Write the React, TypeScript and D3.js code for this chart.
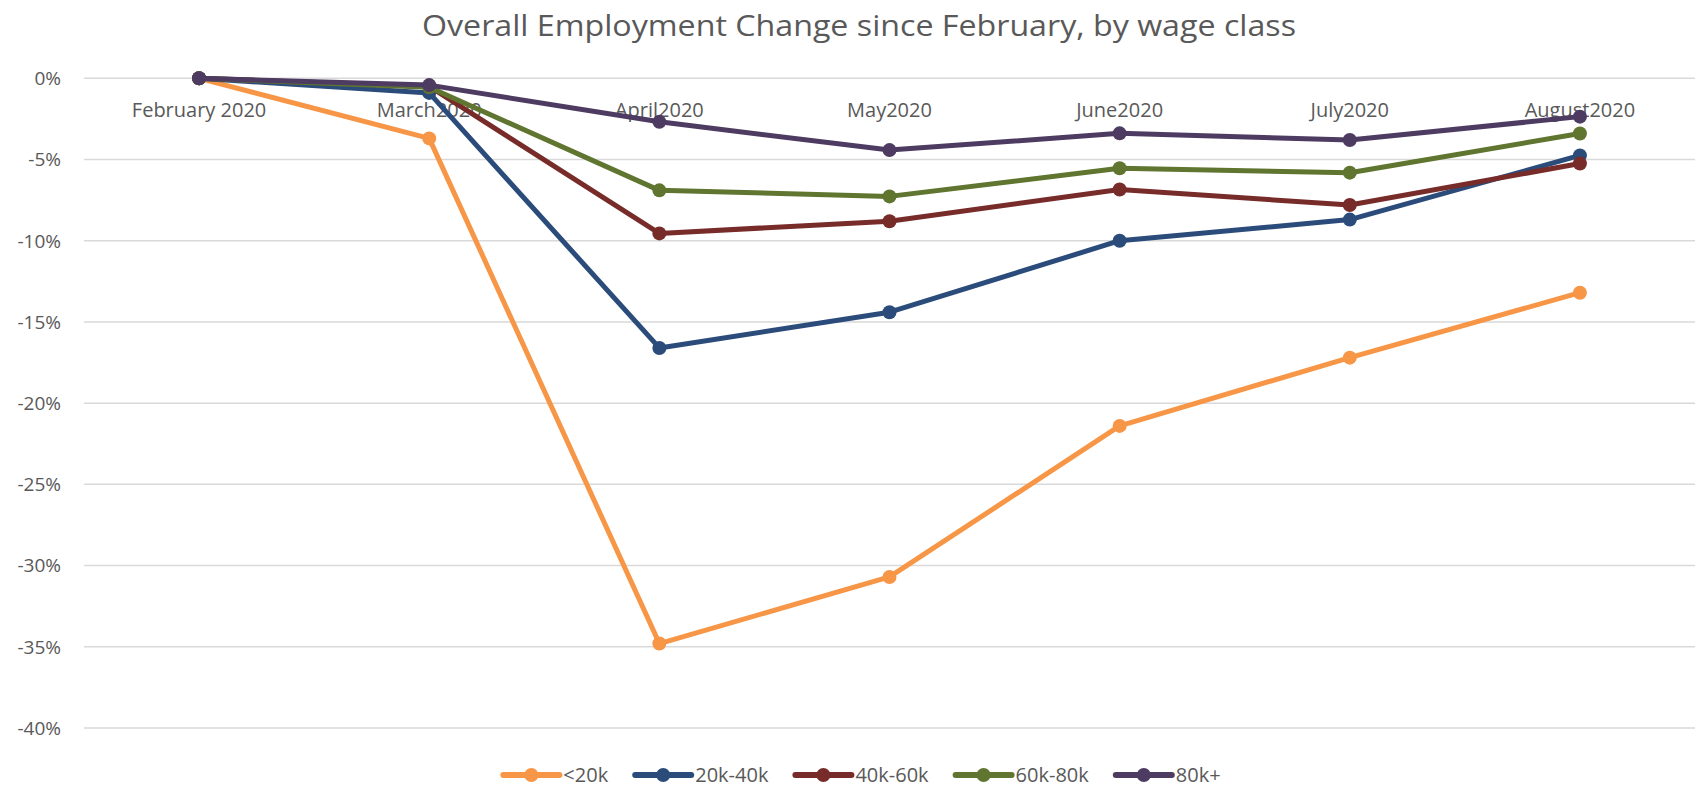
import { useEffect, useRef } from 'react'
import * as d3 from 'd3'

const MONTHS = [
  'February 2020',
  'March2020',
  'April2020',
  'May2020',
  'June2020',
  'July2020',
  'August2020',
]

const SERIES_NAMES = ['<20k', '20k-40k', '40k-60k', '60k-80k', '80k+']
const SERIES_COLORS = ['#F79646', '#2B4C7A', '#772C2A', '#5F7530', '#4D3B62']

// percent change since February
const UNDER_20K = [0, -3.7, -34.8, -30.7, -21.4, -17.2, -13.2]
const K20_40 = [0, -0.9, -16.6, -14.4, -10.0, -8.7, -4.75]
const K40_60 = [0, -0.5, -9.55, -8.8, -6.85, -7.8, -5.25]
const K60_80 = [0, -0.55, -6.9, -7.27, -5.54, -5.81, -3.4]
const K80_PLUS = [0, -0.42, -2.68, -4.42, -3.39, -3.8, -2.36]

const SERIES_VALUES = [UNDER_20K, K20_40, K40_60, K60_80, K80_PLUS]

const Y_TICKS = [0, -5, -10, -15, -20, -25, -30, -35, -40]

const TITLE = 'Overall Employment Change since February, by wage class'

export default function App() {
  const svgRef = useRef<SVGSVGElement>(null)

  useEffect(() => {
    if (!svgRef.current) return
    const width = 1700
    const height = 790
    const textColor = '#595959'

    const svg = d3.select(svgRef.current)
    svg.selectAll('*').remove()

    svg.append('rect').attr('width', width).attr('height', height).attr('fill', '#ffffff')

    const xScale = d3.scaleBand<string>().domain(MONTHS).range([84, 1695]).padding(0)
    const xPos = (m: string) => (xScale(m) as number) + xScale.bandwidth() / 2

    const yScale = d3.scaleLinear().domain([0, -40]).range([78.3, 728])

    // Title
    svg.append('text')
      .attr('x', 859)
      .attr('y', 36)
      .attr('text-anchor', 'middle')
      .attr('font-family', '"Open Sans", sans-serif')
      .attr('font-size', 30)
      .attr('fill', textColor)
      .attr('textLength', 874)
      .attr('lengthAdjust', 'spacingAndGlyphs')
      .text(TITLE)

    // Gridlines
    svg.append('g')
      .selectAll('line')
      .data(Y_TICKS)
      .join('line')
      .attr('x1', 84)
      .attr('x2', 1695)
      .attr('y1', (d) => yScale(d))
      .attr('y2', (d) => yScale(d))
      .attr('stroke', '#D9D9D9')
      .attr('stroke-width', 1.5)

    // Y labels
    svg.append('g')
      .selectAll('text')
      .data(Y_TICKS)
      .join('text')
      .attr('x', 61)
      .attr('y', (d) => yScale(d))
      .attr('dy', '0.36em')
      .attr('text-anchor', 'end')
      .attr('font-family', '"Open Sans", sans-serif')
      .attr('font-size', 19)
      .attr('fill', textColor)
      .text((d) => `${d}%`)

    // X labels (sit just below the 0% line)
    svg.append('g')
      .selectAll('text')
      .data(MONTHS)
      .join('text')
      .attr('x', (d) => xPos(d))
      .attr('y', 117)
      .attr('text-anchor', 'middle')
      .attr('font-family', '"Open Sans", sans-serif')
      .attr('font-size', 20)
      .attr('fill', textColor)
      .text((d) => d)

    // Lines and markers
    const line = d3.line<number>()
      .x((_, i) => xPos(MONTHS[i]))
      .y((d) => yScale(d))

    SERIES_VALUES.forEach((values, si) => {
      const g = svg.append('g')
      g.append('path')
        .attr('d', line(values) as string)
        .attr('fill', 'none')
        .attr('stroke', SERIES_COLORS[si])
        .attr('stroke-width', 5)
        .attr('stroke-linejoin', 'round')
        .attr('stroke-linecap', 'round')
      g.selectAll('circle')
        .data(values)
        .join('circle')
        .attr('cx', (_, i) => xPos(MONTHS[i]))
        .attr('cy', (d) => yScale(d))
        .attr('r', 7)
        .attr('fill', SERIES_COLORS[si])
    })

    // Legend
    const legend = svg.append('g')
    const legendY = 775
    const items: Array<{ g: any; w: number }> = []
    SERIES_NAMES.forEach((name, i) => {
      const g = legend.append('g')
      g.append('line')
        .attr('x1', 0)
        .attr('x2', 56)
        .attr('y1', 0)
        .attr('y2', 0)
        .attr('stroke', SERIES_COLORS[i])
        .attr('stroke-width', 6)
        .attr('stroke-linecap', 'round')
      g.append('circle').attr('cx', 28).attr('cy', 0).attr('r', 7).attr('fill', SERIES_COLORS[i])
      const t = g.append('text')
        .attr('x', 60)
        .attr('y', 0)
        .attr('dy', '0.36em')
        .attr('font-family', '"Open Sans", sans-serif')
        .attr('font-size', 20)
        .attr('fill', textColor)
        .text(name)
      const tw = (t.node() as SVGTextElement).getComputedTextLength()
      items.push({ g, w: 60 + tw })
    })
    const gap = 27
    const total = items.reduce((s, it) => s + it.w, 0) + gap * (items.length - 1)
    let x0 = 862 - total / 2
    items.forEach((it) => {
      it.g.attr('transform', `translate(${x0},${legendY})`)
      x0 += it.w + gap
    })
  }, [])

  return (
    <svg
      ref={svgRef}
      width={1700}
      height={790}
      style={{ display: 'block', position: 'absolute', left: 0, top: 0 }}
    />
  )
}
